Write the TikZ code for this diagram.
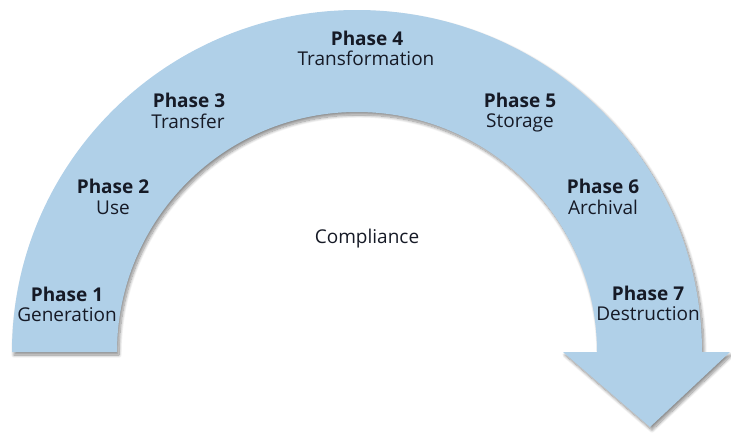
\documentclass[tikz,border=0pt]{standalone}
\usepackage{fontspec}
\setmainfont{Open Sans}
\usetikzlibrary{shadows.blur}
\definecolor{bandblue}{RGB}{176,208,232}
\definecolor{inktext}{RGB}{22,26,38}
\begin{document}
\begin{tikzpicture}[x=1pt,y=-1pt,
  phasehead/.style={anchor=base,inner sep=0pt,text=inktext,font=\fontsize{19}{21}\selectfont\bfseries},
  phaselabel/.style={anchor=base,inner sep=0pt,text=inktext,font=\fontsize{19}{21}\selectfont},
  band/.style={fill=bandblue,draw=none,
    blur shadow={shadow xshift=2pt,shadow yshift=-3pt,shadow blur radius=3pt,shadow blur steps=12,shadow opacity=45}}]
\useasboundingbox (0,0) rectangle (731,434);
% arc band with arrow head
\path[band] (12,352)
  arc[start angle=180,end angle=360,x radius=345,y radius=342]
  -- (730,352) -- (650,427) -- (563,352) -- (597,352)
  arc[start angle=0,end angle=-180,x radius=240,y radius=240]
  -- cycle;
% labels
\node[phasehead]  (h1) at (67,301) {Phase 1};
\node[phaselabel] (l1) at (67,321) {Generation};
\node[phasehead]  (h2) at (113,193) {Phase 2};
\node[phaselabel] (l2) at (113,214) {Use};
\node[phasehead]  (h3) at (189,107) {Phase 3};
\node[phaselabel] (l3) at (188,128) {Transfer};
\node[phasehead]  (h4) at (367,45) {Phase 4};
\node[phaselabel] (l4) at (366,65) {Transformation};
\node[phasehead]  (h5) at (520,107) {Phase 5};
\node[phaselabel] (l5) at (520,127) {Storage};
\node[phasehead]  (h6) at (603,193) {Phase 6};
\node[phaselabel] (l6) at (603,214) {Archival};
\node[phasehead]  (h7) at (648,300) {Phase 7};
\node[phaselabel] (l7) at (648,320) {Destruction};
\node[phaselabel] (comp) at (367,243) {Compliance};
\end{tikzpicture}
\end{document}
